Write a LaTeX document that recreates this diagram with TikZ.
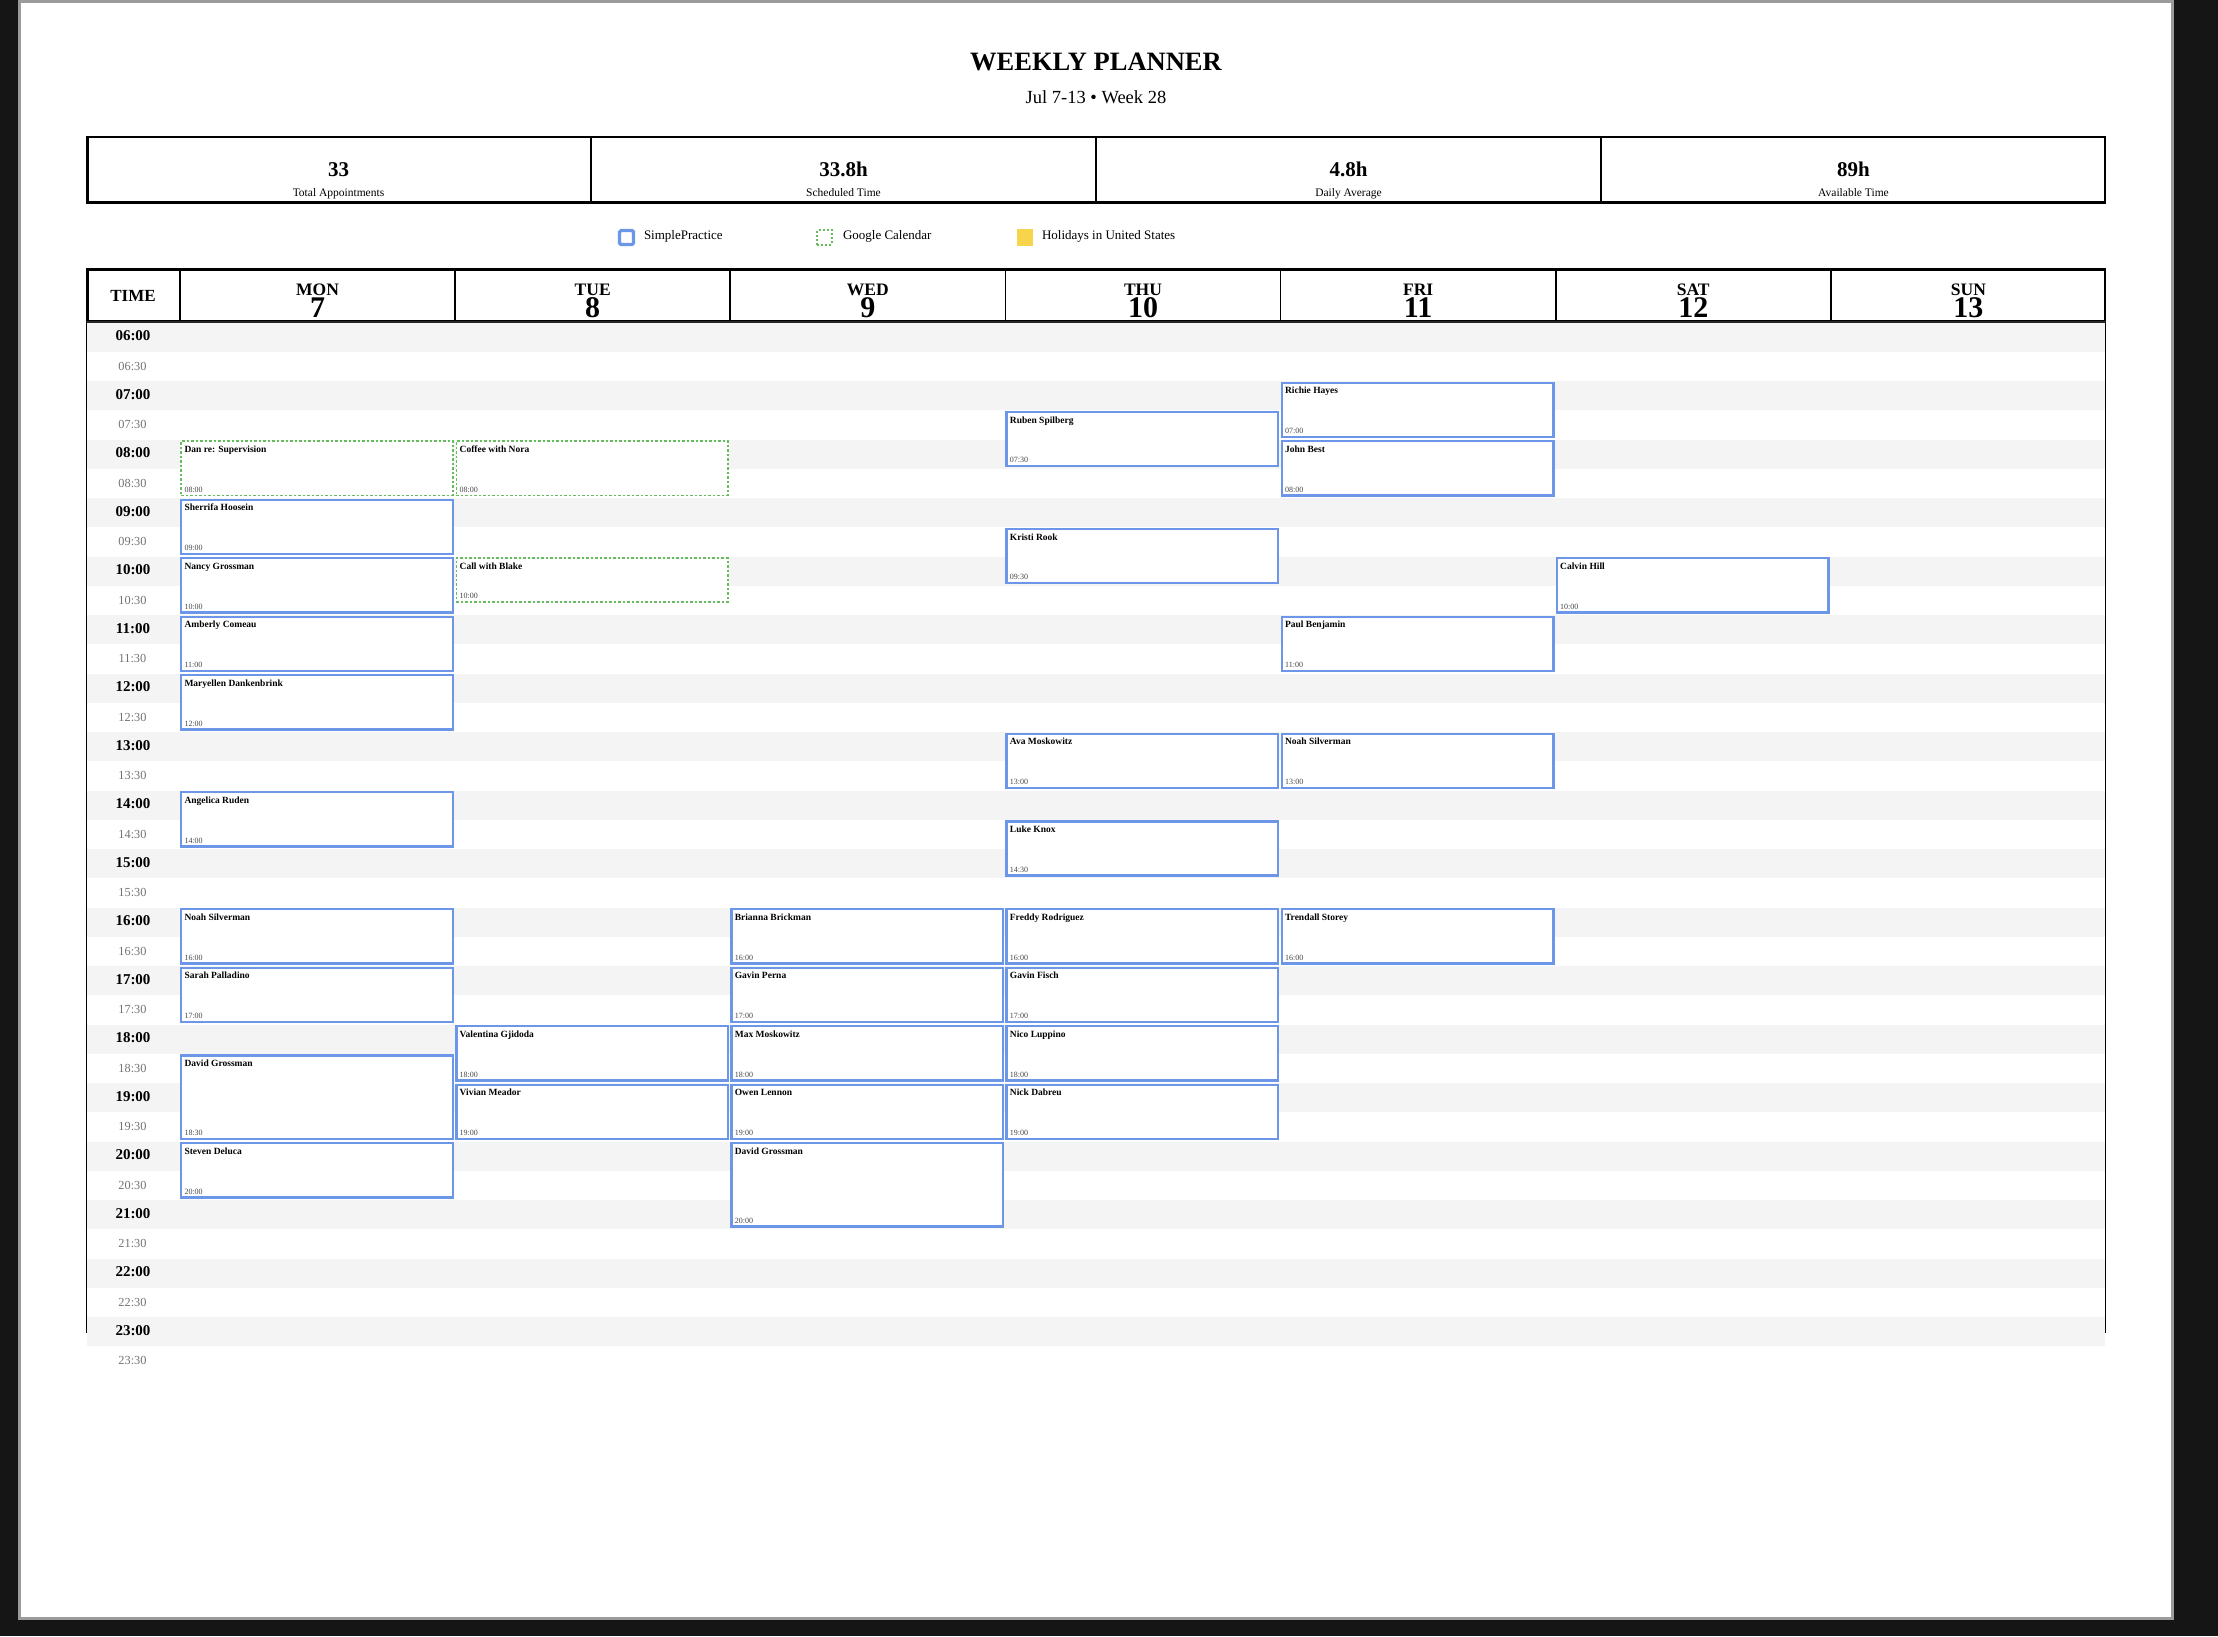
\documentclass[tikz,border=0pt]{standalone}
\usepackage{fontspec}
\setmainfont{Liberation Serif}
\definecolor{spblue}{RGB}{108,150,232}
\definecolor{gcgreen}{RGB}{104,188,96}
\definecolor{bandgray}{RGB}{244,244,244}
\definecolor{holiday}{RGB}{248,212,76}
\definecolor{pagebg}{RGB}{21,21,21}
\definecolor{pageedge}{RGB}{155,155,155}
\definecolor{halfgray}{RGB}{115,115,115}
\definecolor{timegray}{RGB}{70,70,70}
\begin{document}
\begin{tikzpicture}[x=1pt,y=-1pt,
  every node/.style={inner sep=0pt,outer sep=0pt},
  evsp/.style={draw=spblue,line width=2.4pt,fill=white,anchor=north west,minimum width=271.6pt},
  evgc/.style={draw=gcgreen,line width=1.5pt,dash pattern=on 2.5pt off 2pt,fill=white,anchor=north west,minimum width=271.6pt},
  evname/.style={anchor=base west,font=\fontsize{9.5}{10}\selectfont\bfseries},
  evtime/.style={anchor=base west,font=\fontsize{8}{9}\selectfont,text=timegray},
  hourlab/.style={anchor=center,font=\fontsize{15}{16}\selectfont\bfseries},
  halflab/.style={anchor=center,font=\fontsize{12.3}{14}\selectfont,text=halfgray},
  statval/.style={anchor=base,font=\fontsize{21}{24}\selectfont\bfseries},
  statlab/.style={anchor=base,font=\fontsize{11.5}{13}\selectfont},
  legtext/.style={anchor=base west,font=\fontsize{13}{15}\selectfont},
  dayname/.style={anchor=base,font=\fontsize{17.5}{18}\selectfont\bfseries},
  daynum/.style={anchor=base,font=\fontsize{30}{30}\selectfont\bfseries},
  frameline/.style={line width=2.5pt,draw=black},
  divline/.style={line width=1.8pt,draw=black}
]
% background and page
\fill[pagebg] (0,0) rectangle (2218,1636);
\useasboundingbox (0,0) rectangle (2218,1636);
\draw[pageedge,line width=3pt,fill=white] (19.5,1.5) rectangle (2172.5,1618.5);

% title
\node[anchor=base,font=\fontsize{26.5}{30}\selectfont\bfseries] (title) at (1096,70) {WEEKLY PLANNER};
\node[anchor=base,font=\fontsize{18.5}{20}\selectfont] (subtitle) at (1096,103) {Jul 7-13 • Week 28};

% stats box
\draw[frameline] (87.25,136.8) rectangle (2104.75,202.6);
\foreach \xx in {591,1096,1601} \draw[divline,line width=1.5pt] (\xx,136.8) -- (\xx,202.6);
\node[statval] (sv1) at (338.5,176.5) {33};
\node[statlab] (sl1) at (338.5,196) {Total Appointments};
\node[statval] (sv2) at (843.5,176.5) {33.8h};
\node[statlab] (sl2) at (843.5,196) {Scheduled Time};
\node[statval] (sv3) at (1348.5,176.5) {4.8h};
\node[statlab] (sl3) at (1348.5,196) {Daily Average};
\node[statval] (sv4) at (1853.5,176.5) {89h};
\node[statlab] (sl4) at (1853.5,196) {Available Time};

% legend
\node[draw=spblue,line width=3.2pt,rounded corners=1.5pt,minimum width=14pt,minimum height=14pt,fill=white] (lgsp) at (626.5,237.5) {};
\node[legtext] (lgspt) at (644,239) {SimplePractice};
\node[draw=gcgreen,line width=2pt,dash pattern=on 2pt off 2pt,minimum width=14.5pt,minimum height=14.5pt] (lggc) at (824.5,237.5) {};
\node[legtext] (lggct) at (843,239) {Google Calendar};
\node[fill=holiday,minimum width=16pt,minimum height=17pt] (lghd) at (1025,237.5) {};
\node[legtext] (lghdt) at (1042,239) {Holidays in United States};

% hour bands
\foreach \r in {0,2,...,34}
  \fill[bandgray] (87.3,322.5+\r*29.25) rectangle (2104.7,322.5+\r*29.25+29.25);

% header
\draw[frameline] (87.25,269.5) rectangle (2104.75,321.5);
\foreach \xx in {180,455.14,730.28,1005.42,1280.56,1555.7,1830.84}
  \draw[divline] (\xx,269.5) -- (\xx,321.5);
\draw[line width=1.5pt,draw=black!85] (86,321.8) -- (2106,321.8);
\node[anchor=base,font=\fontsize{17}{18}\selectfont\bfseries] (timehdr) at (133,301.7) {TIME};
\foreach \dn/\dd [count=\j from 0] in {MON/7,TUE/8,WED/9,THU/10,FRI/11,SAT/12,SUN/13}{
  \node[dayname] (dn\j) at (180+\j*275.14+137.57,295) {\dn};
  \node[daynum] (dd\j) at (180+\j*275.14+137.57,317) {\dd};
}

% body side borders
\draw[line width=1.7pt] (86.6,322) -- (86.6,1333.3);
\draw[line width=1.7pt] (2105.4,322) -- (2105.4,1333.3);

% time labels
\foreach \hh [count=\k from 0] in {06,07,08,09,10,11,12,13,14,15,16,17,18,19,20,21,22,23}{
  \node[hourlab] (hl\k) at (133,322.5+2*\k*29.25+13.4) {\hh:00};
  \node[halflab] (hh\k) at (132.5,322.5+2*\k*29.25+29.25+14.6) {\hh:30};
}

% events: day/start/duration/time label/name/type
\foreach \d/\s/\du/\tl/\nm/\ty [count=\i] in {
  0/8/1/08:00/Dan re: Supervision/gc,
  0/9/1/09:00/Sherrifa Hoosein/sp,
  0/10/1/10:00/Nancy Grossman/sp,
  0/11/1/11:00/Amberly Comeau/sp,
  0/12/1/12:00/Maryellen Dankenbrink/sp,
  0/14/1/14:00/Angelica Ruden/sp,
  0/16/1/16:00/Noah Silverman/sp,
  0/17/1/17:00/Sarah Palladino/sp,
  0/18.5/1.5/18:30/David Grossman/sp,
  0/20/1/20:00/Steven Deluca/sp,
  1/8/1/08:00/Coffee with Nora/gc,
  1/10/0.825/10:00/Call with Blake/gc,
  1/18/1/18:00/Valentina Gjidoda/sp,
  1/19/1/19:00/Vivian Meador/sp,
  2/16/1/16:00/Brianna Brickman/sp,
  2/17/1/17:00/Gavin Perna/sp,
  2/18/1/18:00/Max Moskowitz/sp,
  2/19/1/19:00/Owen Lennon/sp,
  2/20/1.5/20:00/David Grossman/sp,
  3/7.5/1/07:30/Ruben Spilberg/sp,
  3/9.5/1/09:30/Kristi Rook/sp,
  3/13/1/13:00/Ava Moskowitz/sp,
  3/14.5/1/14:30/Luke Knox/sp,
  3/16/1/16:00/Freddy Rodriguez/sp,
  3/17/1/17:00/Gavin Fisch/sp,
  3/18/1/18:00/Nico Luppino/sp,
  3/19/1/19:00/Nick Dabreu/sp,
  4/7/1/07:00/Richie Hayes/sp,
  4/8/1/08:00/John Best/sp,
  4/11/1/11:00/Paul Benjamin/sp,
  4/13/1/13:00/Noah Silverman/sp,
  4/16/1/16:00/Trendall Storey/sp,
  5/10/1/10:00/Calvin Hill/sp}{
  \pgfmathsetmacro{\L}{180+\d*275.14}
  \pgfmathsetmacro{\T}{322.5+(\s-6)*58.5}
  \pgfmathsetmacro{\H}{\du*58.5-4.4}
  \pgfmathsetmacro{\B}{\T+\du*58.5-6}
  \node[ev\ty,minimum height=\H pt] (ev\i) at (\L+1.2,\T+1.7) {};
  \node[evname] (evn\i) at (\L+4.5,\T+12.8) {\nm};
  \node[evtime] (evt\i) at (\L+4.5,\B) {\tl};
}
\end{tikzpicture}
\end{document}
